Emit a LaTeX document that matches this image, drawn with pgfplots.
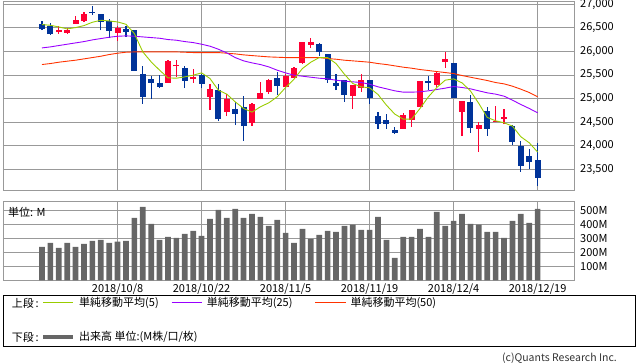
\documentclass[border=0pt]{standalone}
\usepackage{fontspec}
\setmainfont{Noto Sans CJK JP}
\usepackage{pgfplots}
\pgfplotsset{compat=1.18}
\usepackage{pgfplotstable}
\definecolor{cred}{HTML}{FF0033}
\definecolor{cblue}{HTML}{003399}
\definecolor{cgreen}{HTML}{99CC00}
\definecolor{cpurple}{HTML}{9900FF}
\definecolor{corange}{HTML}{FF3300}
\definecolor{gridgray}{HTML}{999999}
\definecolor{volgray}{HTML}{666666}

\pgfplotstableread{
i O H L C
2 26407 26548 26372 26449
3 26393 26499 26372 26463
4 26583 26753 26583 26661
5 26640 26830 26626 26788
9 26393 26534 26223 26492
15 25334 25814 25334 25793
16 25685 25814 25460 25715
18 25411 25623 25334 25453
20 25030 25305 24754 25200
22 24712 25094 24627 24988
25 24479 24903 24416 24882
26 24988 25348 24988 25108
27 25136 25418 25094 25390
29 25242 25517 25214 25475
30 25432 25672 25432 25644
31 25764 26195 25743 26195
32 26139 26280 26068 26195
37 25058 25284 24783 25284
38 25221 25517 25143 25404
43 24359 24684 24359 24649
44 24543 24755 24401 24755
45 24825 25369 24825 25369
47 25284 25573 25249 25538
48 25779 25990 25652 25835
50 24719 24945 24204 24945
52 24359 24493 23872 24437
54 24500 24839 24500 24530
55 24571 24783 24458 24606
}\upc

\pgfplotstableread{
i O H L C
0 26590 26640 26450 26470
1 26534 26612 26350 26365
6 26835 26958 26774 26805
7 26788 26788 26449 26626
8 26647 26682 26287 26435
10 26470 26534 26308 26414
11 26449 26449 25588 25588
12 25517 25687 24889 25037
13 25411 25475 24988 25334
14 25327 25496 25221 25249
17 25644 25687 25221 25376
19 25496 25531 25221 25312
21 25178 25305 24522 24564
23 24776 24924 24437 24670
24 24818 25051 24105 24416
28 25446 25573 25065 25263
33 26153 26181 25898 25983
34 25955 25955 25334 25390
35 25334 25517 25178 25270
36 25390 25390 24930 25072
39 25390 25390 24889 25009
40 24627 24712 24359 24465
41 24543 24670 24359 24465
42 24331 24401 24246 24274
46 25369 25489 25178 25339
49 25757 25757 25009 25009
51 24924 25086 24274 24380
53 24726 24811 24211 24359
56 24416 24437 24013 24084
57 23999 24098 23448 23575
58 23780 23928 23504 23660
59 23695 24062 23151 23321
}\downc

\pgfplotstableread{
i V
0 240
1 269
2 233
3 269
4 240
5 261
6 283
7 290
8 269
9 278
10 283
11 448
12 528
13 405
14 290
15 312
16 305
17 333
18 355
19 319
20 441
21 506
22 448
23 513
24 448
25 477
26 456
27 391
28 434
29 341
30 269
31 369
32 297
33 326
34 355
35 348
36 391
37 400
38 362
39 362
40 456
41 290
42 161
43 312
44 312
45 369
46 312
47 492
48 391
49 427
50 477
51 405
52 400
53 348
54 348
55 305
56 427
57 477
58 412
59 513
}\vol

\begin{document}
\begin{tikzpicture}
\useasboundingbox (0pt,0pt) rectangle (638pt,362pt);
\pgfplotsset{common/.style={
  scale only axis, anchor=south west, width=571pt,
  xmin=-4.64, xmax=63.33,
  xtick={9,19,29,39,49,59},
  grid=major, grid style={gridgray, line width=0.8pt},
  axis line style={gridgray, line width=0.8pt},
  major tick length=0pt, tick style={draw=none},
  yticklabel pos=right,
  yticklabel style={anchor=west, xshift=6pt, inner sep=0pt},
  tick label style={font=\fontsize{11}{13}\selectfont},
  /pgf/number format/assume math mode=true,
  scaled y ticks=false,
  clip=true},
  candle/.style={draw=none, fill=none, mark=none, forget plot,
  error bars/.cd, y dir=plus, y explicit, error mark=none,
  error bar style={draw=#1, line width=1.2pt}},
  body/.style={draw=none, fill=none, mark=none, forget plot,
  error bars/.cd, y dir=plus, y explicit, error mark=none,
  error bar style={draw=#1, line width=6pt}}}

\begin{axis}[common, at={(3pt,172pt)}, height=189pt,
  ymin=23060, ymax=27070,
  ytick={23500,24000,24500,25000,25500,26000,26500,27000},
  xticklabels={},
  /pgf/number format/fixed,
  /pgf/number format/precision=0,
  /pgf/number format/1000 sep={,}]
% wicks
\addplot[candle=cred] table[x=i, y=L, y error plus expr=\thisrow{H}-\thisrow{L}] {\upc};
\addplot[candle=cblue] table[x=i, y=L, y error plus expr=\thisrow{H}-\thisrow{L}] {\downc};
% bodies
\addplot[body=cred] table[x=i, y=O, y error plus expr=\thisrow{C}-\thisrow{O}] {\upc};
\addplot[body=cblue] table[x=i, y=C, y error plus expr=\thisrow{O}-\thisrow{C}] {\downc};
% moving averages
\addplot[corange, line width=0.9pt, mark=none] coordinates {
(0,25722)(1,25743)(2,25771)(3,25793)(4,25814)(5,25842)(6,25870)(7,25898)(8,25934)(9,25962)
(10,25983)(11,25990)(12,25990)(13,25990)(14,25990)(15,25990)(16,25990)(17,25983)(18,25976)(19,25976)
(20,25976)(21,25976)(22,25962)(23,25948)(24,25927)(25,25912)(26,25898)(27,25884)(28,25877)(29,25870)
(30,25870)(31,25870)(32,25870)(33,25870)(34,25849)(35,25835)(36,25814)(37,25800)(38,25786)(39,25771)
(40,25743)(41,25722)(42,25694)(43,25666)(44,25644)(45,25616)(46,25595)(47,25573)(48,25552)(49,25531)
(50,25489)(51,25453)(52,25418)(53,25383)(54,25340)(55,25312)(56,25263)(57,25199)(58,25129)(59,25037)};
\addplot[cpurple, line width=0.9pt, mark=none] coordinates {
(0,26075)(1,26096)(2,26125)(3,26153)(4,26181)(5,26209)(6,26245)(7,26273)(8,26301)(9,26322)
(10,26330)(11,26322)(12,26308)(13,26294)(14,26280)(15,26252)(16,26238)(17,26209)(18,26188)(19,26153)
(20,26111)(21,26047)(22,25969)(23,25870)(24,25800)(25,25757)(26,25722)(27,25672)(28,25602)(29,25545)
(30,25496)(31,25475)(32,25453)(33,25432)(34,25418)(35,25390)(36,25369)(37,25355)(38,25340)(39,25305)
(40,25249)(41,25207)(42,25164)(43,25136)(44,25136)(45,25143)(46,25164)(47,25192)(48,25221)(49,25256)
(50,25235)(51,25207)(52,25164)(53,25122)(54,25094)(55,25051)(56,24966)(57,24875)(58,24790)(59,24698)};
\addplot[cgreen, line width=0.9pt, mark=none] coordinates {
(0,26570)(1,26555)(2,26520)(3,26478)(4,26506)(5,26548)(6,26619)(7,26661)(8,26647)(9,26626)
(10,26576)(11,26379)(12,25990)(13,25778)(14,25602)(15,25439)(16,25432)(17,25460)(18,25496)(19,25545)
(20,25425)(21,25178)(22,25094)(23,24931)(24,24790)(25,24712)(26,24825)(27,24910)(28,25037)(29,25235)
(30,25411)(31,25637)(32,25771)(33,25870)(34,25870)(35,25743)(36,25517)(37,25319)(38,25249)(39,25228)
(40,25086)(41,24860)(42,24670)(43,24564)(44,24564)(45,24790)(46,25037)(47,25235)(48,25390)(49,25418)
(50,25333)(51,25164)(52,24896)(53,24600)(54,24529)(55,24486)(56,24416)(57,24190)(58,24062)(59,23865)};
\end{axis}

\begin{axis}[common, at={(3pt,81.7pt)}, height=79pt,
  ymin=0, ymax=568,
  ytick={100,200,300,400,500},
  yticklabels={100M,200M,300M,400M,500M},
  xticklabels={2018/10/8,2018/10/22,2018/11/5,2018/11/19,2018/12/4,2018/12/19}]
\addplot[ybar, bar width=5.7pt, fill=volgray, draw=none] table[x=i, y=V] {\vol};
\end{axis}

\node[anchor=west, inner sep=0pt, font=\fontsize{11}{13}\selectfont] at (8pt,150pt) {単位: M};

% legend box
\draw[black, line width=1.2pt] (3.3pt,15.7pt) rectangle (635.3pt,66.7pt);
\begin{scope}[every node/.style={anchor=west, inner sep=0pt, font=\fontsize{11}{13}\selectfont}]
\node at (11.7pt,59pt) {上段\,:};
\draw[cgreen, line width=1pt] (43.3pt,59pt) -- (73.3pt,59pt);
\node at (79pt,59pt) {単純移動平均(5)};
\draw[cpurple, line width=1pt] (171.7pt,59pt) -- (201.7pt,59pt);
\node at (206.7pt,59pt) {単純移動平均(25)};
\draw[corange, line width=1pt] (315pt,59pt) -- (346pt,59pt);
\node at (350.3pt,59pt) {単純移動平均(50)};
\node at (11.7pt,25pt) {下段\,:};
\draw[volgray, line width=4pt] (43.3pt,25pt) -- (73.3pt,25pt);
\node at (79pt,25pt) {出来高 単位:(M株/口/枚)};
\end{scope}
\node[anchor=east, inner sep=0pt, font=\fontsize{10.5}{12}\selectfont, text=black!80] at (617pt,4pt) {(c)Quants Research Inc.};
\end{tikzpicture}
\end{document}
